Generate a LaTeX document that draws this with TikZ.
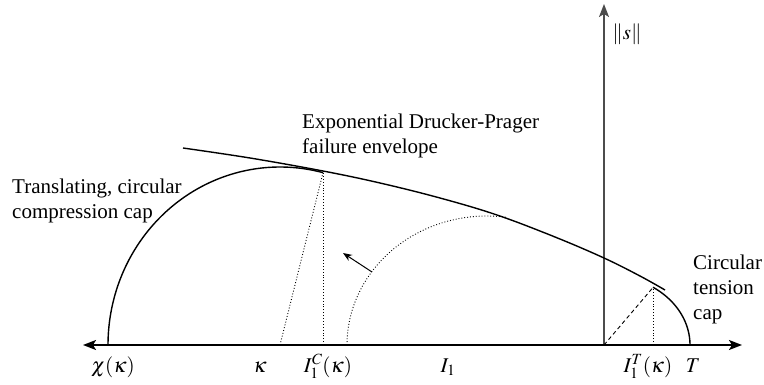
\documentclass[tikz,border=0pt]{standalone}
\usepackage{mathptmx}
\usepackage{fontspec}
\setmainfont{Liberation Serif}
\usetikzlibrary{arrows.meta}
\tikzset{
  lbl/.style={font=\fontsize{21}{25}\selectfont, inner sep=0pt, align=left, anchor=north west},
  mlbl/.style={font=\fontsize{21}{25}\selectfont, inner sep=0pt, anchor=base},
  curve/.style={line width=1.4pt},
  dotline/.style={line width=0.9pt, dotted},
  dashline/.style={line width=0.9pt, dash pattern=on 4pt off 3pt},
}
\begin{document}
\begin{tikzpicture}[x=1pt,y=-1pt, >={Stealth[length=13pt,width=10pt,inset=3pt]}]
\useasboundingbox (0,0) rectangle (764,385);
% key points
\coordinate (L) at (83,345);
\coordinate (R) at (742,345);
\coordinate (O) at (604,345);
\coordinate (Top) at (604,4);
\coordinate (Kc) at (280,345);
\coordinate (TC) at (323,172.7);
\coordinate (IC) at (323,345);
\coordinate (TT) at (653,287.5);
\coordinate (IT) at (653,345);
\coordinate (Atail) at (372,272);
\coordinate (Ahead) at (343,253);
% axes
\draw[line width=1.5pt, gray!60!black, ->] (O) -- (Top);
\draw[line width=1.8pt, <->] (L) -- (R);
% envelope
\draw[curve] plot[smooth, tension=0.6] coordinates {(183,148) (250,158) (323,171) (380,183) (440,198) (497,215) (555,237) (604,258) (640,276) (665,290)};
% compression cap
\draw[curve] plot[domain=180:75.5, samples=70, smooth] ({280+172*cos(\x)},{345-178*sin(\x)});
% previous cap (dotted)
\draw[dotline] plot[domain=180:82, samples=70, smooth] ({487+140*cos(\x)},{345-129*sin(\x)});
% tension cap
\draw[curve] plot[domain=55.6:0, samples=40, smooth] ({605+85*cos(\x)},{345-70*sin(\x)});
% construction lines
\draw[dotline] (Kc) -- (TC);
\draw[dotline] (IC) -- (TC);
\draw[dashline] (O) -- (TT);
\draw[dotline] (IT) -- (TT);
% movement arrow
\draw[line width=1pt, -{Stealth[length=9pt,width=7pt]}] (Atail) -- (Ahead);
% texts
\node[lbl] (t1) at (12,178.7) {Translating, circular\\compression cap};
\node[lbl] (t2) at (302,113.7) {Exponential Drucker-Prager\\failure envelope};
\node[lbl] (t3) at (693,254.7) {Circular\\tension\\cap};
\node[font=\fontsize{21}{25}\selectfont, inner sep=0pt] (s) at (627,34) {$\|s\|$};
\node[mlbl] (chi) at (113,372) {$\chi(\kappa)$};
\node[mlbl] (kap) at (260,372) {$\kappa$};
\node[mlbl] (ic) at (328,372) {$I_1^C(\kappa)$};
\node[mlbl] (i1) at (448,372) {$I_1$};
\node[mlbl] (itl) at (648,372) {$I_1^T(\kappa)$};
\node[mlbl] (tl) at (693,372) {$T$};
\end{tikzpicture}
\end{document}
